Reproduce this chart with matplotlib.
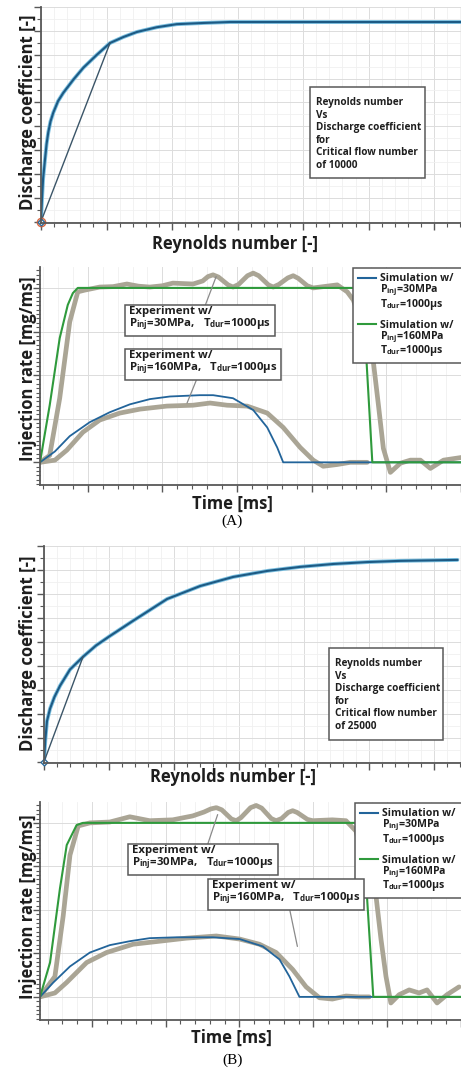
import matplotlib
matplotlib.use('Agg')
import matplotlib.pyplot as plt
from matplotlib.ticker import MultipleLocator
from matplotlib.lines import Line2D
from matplotlib.patches import Rectangle

plt.rcParams['font.family'] = ['Open Sans', 'DejaVu Sans']
plt.rcParams['mathtext.default'] = 'regular'

# ---- (A) discharge coefficient, critical flow number 10000
re_a = [0, 153, 320, 611, 850, 1115, 1450, 1878, 2600, 3405, 4931, 6458, 8504, 10534,
        12565, 14611, 17664, 20718, 24779, 28855, 64100]
cd_a = [0, 0.095, 0.18, 0.261, 0.325, 0.375, 0.42, 0.457, 0.505, 0.540, 0.595, 0.645,
        0.699, 0.749, 0.774, 0.795, 0.815, 0.828, 0.833, 0.837, 0.837]
chord_re_a = [0, 10534]
chord_cd_a = [0, 0.749]

# ---- (B) discharge coefficient, critical flow number 25000
re_b = [0, 200, 460, 923, 1600, 2462, 4000, 6000, 8000, 10150, 13690, 18920, 24000,
        29080, 34310, 39380, 44460, 49690, 54770, 63540]
cd_b = [0, 0.09, 0.17, 0.221, 0.27, 0.317, 0.385, 0.438, 0.485, 0.525, 0.588, 0.679,
        0.733, 0.771, 0.796, 0.813, 0.825, 0.833, 0.838, 0.842]
chord_re_b = [0, 6000]
chord_cd_b = [0, 0.438]

# ---- (A) injection rate [mg/ms] vs time [ms]
t_exp160_a = [0.18, 0.245, 0.312, 0.379, 0.433, 0.48, 0.58, 0.67, 0.762, 0.84, 0.916,
              1.0, 1.07, 1.205, 1.27, 1.305, 1.339, 1.375, 1.44, 1.473, 1.51, 1.57,
              1.608, 1.645, 1.71, 1.742, 1.78, 1.84, 1.876, 1.91, 1.97, 2.01, 2.171,
              2.238, 2.279, 2.346, 2.413, 2.447, 2.48, 2.527, 2.594, 2.661, 2.728,
              2.795, 2.883, 3.0]
r_exp160_a = [0, 1.6, 14.7, 32.2, 39.1, 39.5, 40.2, 40.3, 40.9, 40.4, 40.2,
              40.5, 41.1, 40.9, 41.6, 42.6, 43.0, 42.5, 40.7, 40.2, 40.8, 42.8,
              43.4, 42.8, 40.7, 40.2, 40.8, 42.3, 42.8, 42.2, 40.5, 40.0, 40.7,
              39.1, 37.2, 30.8, 23.0, 13.1, 3.2, -2.3, -0.2, 0.5, 0.5,
              -1.4, 0.5, 1.1]
t_sim160_a = [0.18, 0.245, 0.312, 0.366, 0.40, 0.433, 2.258, 2.339, 2.406, 3.0]
r_sim160_a = [0, 13.1, 28.5, 36.1, 38.8, 40, 40, 40, 0, 0]
t_exp30_a = [0.18, 0.28, 0.36, 0.467, 0.58, 0.715, 0.849, 1.03, 1.205, 1.319, 1.433,
             1.567, 1.702, 1.809, 1.923, 2.01, 2.077, 2.171, 2.258, 2.372]
r_exp30_a = [0, 0.5, 2.8, 6.9, 9.7, 11.3, 12.2, 12.9, 13.1, 13.6, 13.1,
             12.9, 11.3, 8.0, 3.4, 0.5, -0.9, -0.5, 0, 0]
t_sim30_a = [0.18, 0.28, 0.379, 0.513, 0.648, 0.782, 0.916, 1.05, 1.25, 1.34, 1.473,
             1.608, 1.702, 1.769, 1.809, 3.0]
r_sim30_a = [0, 2.5, 6.0, 9.2, 11.5, 13.3, 14.5, 15.1, 15.4, 15.4, 14.7,
             12.0, 8.0, 3.4, 0, 0]

# ---- (B) injection rate [mg/ms] vs time [ms]
t_exp160_b = [0.149, 0.25, 0.306, 0.352, 0.408, 0.487, 0.622, 0.757, 0.892, 1.048,
              1.183, 1.26, 1.305, 1.343, 1.38, 1.445, 1.478, 1.51, 1.575, 1.613, 1.65,
              1.715, 1.748, 1.785, 1.83, 1.86, 1.89, 1.96, 1.996, 2.129, 2.221, 2.289,
              2.352, 2.424, 2.458, 2.492, 2.525, 2.581, 2.649, 2.716, 2.77, 2.838,
              2.905, 2.987]
r_exp160_b = [0, 4.7, 18.6, 32.6, 39.3, 40, 40.2, 41.4, 40.5, 40.7,
              41.6, 42.5, 43.2, 43.5, 43.0, 40.9, 40.5, 41.2, 43.5, 44.0, 43.4,
              41.0, 40.5, 41.0, 42.4, 42.8, 42.4, 40.8, 40.5, 40.7, 40.5, 38.1,
              30.0, 23.3, 13.3, 4.7, -1.4, 0.5, 1.6, 0.9, 1.6, -1.4,
              0.5, 2.3]
t_sim160_b = [0.149, 0.217, 0.284, 0.33, 0.397, 0.44, 2.244, 2.332, 2.406, 2.994]
r_sim160_b = [0, 7.9, 24.9, 34.9, 39.5, 40, 40, 40, 0, 0]
t_exp30_b = [0.149, 0.25, 0.329, 0.465, 0.6, 0.779, 0.96, 1.14, 1.343, 1.5, 1.635,
             1.748, 1.86, 1.951, 2.041, 2.129, 2.221, 2.311, 2.379]
r_exp30_b = [0, 0.9, 3.3, 7.9, 10.2, 12.1, 12.8, 13.5, 14.0, 13.3, 12.1,
             10.2, 6.3, 2.3, -0.2, -0.5, 0.2, 0, 0]
t_sim30_b = [0.149, 0.239, 0.352, 0.487, 0.622, 0.757, 0.892, 1.073, 1.32, 1.5,
             1.658, 1.771, 1.838, 1.906, 2.994]
r_sim30_b = [0, 3.3, 7.0, 10.2, 11.9, 12.8, 13.5, 13.7, 13.7, 13.3,
             11.6, 8.6, 4.7, 0, 0]

sim_labels = [['Simulation w/', 'P$_{inj}$=30MPa', 'T$_{dur}$=1000μs'],
              ['Simulation w/', 'P$_{inj}$=160MPa', 'T$_{dur}$=1000μs']]
exp_labels = ['Experiment w/\nP$_{inj}$=30MPa,   T$_{dur}$=1000μs',
              'Experiment w/\nP$_{inj}$=160MPa,   T$_{dur}$=1000μs']

W, H = 461, 1072
BLUE = '#22649a'
GREEN = '#2f9a3c'
GREY = '#aaa595'
SPINE = '#585858'
INK = '#1e1e1e'

fig = plt.figure(figsize=(W / 100, H / 100), dpi=100)


def px(x, y):
    return x / W, 1 - y / H


def rect(l, t, r, b):
    return [l / W, 1 - b / H, (r - l) / W, (b - t) / H]


def style(ax, xmaj, xmin, ymaj, ymin, ygrid_minor=True):
    for s in ['top', 'right']:
        ax.spines[s].set_visible(False)
    for s in ['left', 'bottom']:
        ax.spines[s].set_color(SPINE)
        ax.spines[s].set_linewidth(1.3)
    ax.xaxis.set_major_locator(MultipleLocator(xmaj))
    ax.xaxis.set_minor_locator(MultipleLocator(xmin))
    ax.yaxis.set_major_locator(MultipleLocator(ymaj))
    ax.yaxis.set_minor_locator(MultipleLocator(ymin))
    ax.tick_params(which='both', direction='out', colors=SPINE,
                   labelbottom=False, labelleft=False)
    ax.tick_params(which='major', length=5, width=1)
    ax.tick_params(which='minor', length=3, width=0.8)
    ax.grid(which='major', color='#dcdcdc', lw=0.7)
    ax.grid(which='minor', axis='x', color='#f0f0f0', lw=0.6)
    if ygrid_minor:
        ax.grid(which='minor', axis='y', color='#f0f0f0', lw=0.6)
    ax.set_axisbelow(True)


def labels(ax, xlab, ylab, xl, yl):
    ax.set_xlabel(xlab, fontsize=12, fontweight='bold', color=INK)
    ax.set_ylabel(ylab, fontsize=12, fontweight='bold', color=INK)
    ax.xaxis.set_label_coords(*px(*xl), transform=fig.transFigure)
    ax.yaxis.set_label_coords(*px(*yl), transform=fig.transFigure)


def cd_panel(ax, re, cd, cre, ccd, note, box, red_mark):
    style(ax, 10000, 2000, 0.1, 0.05)
    ax.plot(re, cd, color='#7cc0e0', lw=2.8, solid_capstyle='round', solid_joinstyle='round')
    ax.plot(re, cd, color='#1d5a84', lw=1.5, solid_joinstyle='round')
    ax.plot(cre, ccd, color='#3b5568', lw=1.0)
    if red_mark:
        ax.plot(re[0], cd[0], 'o', mfc='none', mec='#d8643c', ms=6, mew=1, clip_on=False)
    ax.plot(re[0], cd[0], 'D', mfc='white', mec='#2c6a9a', ms=3.5, mew=1, clip_on=False)
    ax.set_xlim(0, 64100)
    ax.set_ylim(-0.005, 0.9)
    l, t, r, b = box
    fig.add_artist(Rectangle(px(l, b), (r - l) / W, (b - t) / H, transform=fig.transFigure,
                             fc='white', ec=SPINE, lw=1.1))
    fig.text(*px(l + 6, t + 10), note, ha='left', va='top', fontsize=7.2,
             fontweight='bold', color=INK, linespacing=1.2)


def rate_panel(ax, data, xlim, leg_pos, notes):
    style(ax, 0.5, 0.1, 10, 1, ygrid_minor=False)
    (te160, re160), (ts160, rs160), (te30, re30), (ts30, rs30) = data
    ax.plot(te160, re160, color=GREY, lw=3.4, solid_joinstyle='round', solid_capstyle='round')
    ax.plot(te30, re30, color=GREY, lw=3.4, solid_joinstyle='round', solid_capstyle='round')
    ax.plot(ts30, rs30, color=BLUE, lw=1.3)
    ax.plot(ts160, rs160, color=GREEN, lw=1.5)
    ax.set_xlim(*xlim)
    ax.set_ylim(-5.2, 44.8)

    for text, xy, tpos in notes:
        ax.annotate(text, xy=xy, xycoords='data', xytext=px(*tpos), textcoords='figure fraction',
                    ha='left', va='top', fontsize=8.2, fontweight='bold', color=INK,
                    linespacing=0.95, zorder=8,
                    bbox=dict(boxstyle='square,pad=0.33', fc='white', ec=SPINE, lw=1.1),
                    arrowprops=dict(arrowstyle='-', color='#8a8a8a', lw=0.9, shrinkA=0, shrinkB=0))

    blank = Line2D([], [], color='none')
    handles = [Line2D([], [], color=BLUE, lw=1.5), blank, blank, blank,
               Line2D([], [], color=GREEN, lw=1.5), blank, blank]
    texts = sim_labels[0] + [' '] + sim_labels[1]
    x0, y0 = px(*leg_pos)
    leg = ax.legend(handles, texts, loc='upper left', bbox_to_anchor=(x0, y0 - 0.2, 0.26, 0.2),
                    bbox_transform=fig.transFigure, mode='expand', fontsize=7.6, frameon=True,
                    fancybox=False, edgecolor=SPINE, framealpha=1, borderpad=0.5,
                    labelspacing=-0.15, handlelength=1.7, handletextpad=0.4, borderaxespad=0)
    leg.set_zorder(6)
    leg.get_frame().set_linewidth(1.1)
    for tx in leg.get_texts():
        tx.set_fontweight('bold')
        tx.set_color(INK)


ax1 = fig.add_axes(rect(41, 7, 461, 222.7))
ax2 = fig.add_axes(rect(40, 267, 461, 485))
ax3 = fig.add_axes(rect(44, 546, 461, 763))
ax4 = fig.add_axes(rect(40, 802, 461, 1019.5))

cd_panel(ax1, re_a, cd_a, chord_re_a, chord_cd_a,
         'Reynolds number\nVs\nDischarge coefficient\nfor\nCritical flow number\nof 10000',
         (310, 87, 425, 178), True)
cd_panel(ax3, re_b, cd_b, chord_re_b, chord_cd_b,
         'Reynolds number\nVs\nDischarge coefficient\nfor\nCritical flow number\nof 25000',
         (329, 648, 443, 740), False)

rate_panel(ax2, [(t_exp160_a, r_exp160_a), (t_sim160_a, r_sim160_a),
                 (t_exp30_a, r_exp30_a), (t_sim30_a, r_sim30_a)],
           (0.18, 3.0), (353, 268),
           [(exp_labels[0], (1.36, 42.6), (129, 306)),
            (exp_labels[1], (1.165, 13.6), (129, 350))])
rate_panel(ax4, [(t_exp160_b, r_exp160_b), (t_sim160_b, r_sim160_b),
                 (t_exp30_b, r_exp30_b), (t_sim30_b, r_sim30_b)],
           (0.149, 3.0), (355, 803),
           [(exp_labels[0], (1.352, 41.9), (132, 845)),
            (exp_labels[1], (1.892, 11.6), (212, 880))])

labels(ax1, 'Reynolds number [-]', 'Discharge coefficient [-]', (235, 235), (37, 112))
labels(ax2, 'Time [ms]', 'Injection rate [mg/ms]', (232, 495), (37, 369))
labels(ax3, 'Reynolds number [-]', 'Discharge coefficient [-]', (233, 768), (37, 653))
labels(ax4, 'Time [ms]', 'Injection rate [mg/ms]', (231, 1029), (37, 907))

fig.text(*px(232, 521), '(A)', ha='center', va='center', fontsize=11,
         family=['Liberation Serif', 'DejaVu Serif'])
fig.text(*px(233, 1060), '(B)', ha='center', va='center', fontsize=11,
         family=['Liberation Serif', 'DejaVu Serif'])

fig.savefig('out.png', dpi=100)
